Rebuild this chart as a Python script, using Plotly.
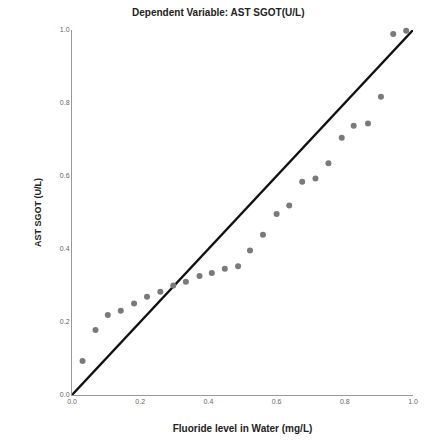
import plotly.graph_objects as go

observed_cum_prob = [0.031, 0.069, 0.105, 0.143, 0.182, 0.220, 0.259, 0.297, 0.334, 0.374,
                     0.410, 0.448, 0.487, 0.522, 0.560, 0.600, 0.637, 0.675, 0.714, 0.752,
                     0.791, 0.826, 0.868, 0.906, 0.942, 0.980]
expected_cum_prob = [0.093, 0.178, 0.219, 0.231, 0.251, 0.269, 0.283, 0.300, 0.310, 0.326,
                     0.334, 0.346, 0.353, 0.396, 0.439, 0.496, 0.519, 0.584, 0.593, 0.635,
                     0.705, 0.738, 0.744, 0.817, 0.989, 0.998]
ref_line_x = [0.0, 1.0]
ref_line_y = [0.0, 1.0]
tick_vals = [0.0, 0.2, 0.4, 0.6, 0.8, 1.0]
tick_text = ["0.0", "0.2", "0.4", "0.6", "0.8", "1.0"]

fig = go.Figure()
fig.add_trace(go.Scatter(x=ref_line_x, y=ref_line_y, mode="lines",
                         line=dict(color="#111111", width=2.3), showlegend=False))
fig.add_trace(go.Scatter(x=observed_cum_prob, y=expected_cum_prob, mode="markers",
                         marker=dict(color="#7a7a7a", size=6), showlegend=False,
                         cliponaxis=False))

fig.update_layout(
    width=428, height=446,
    margin=dict(l=72, r=10, t=30, b=51),
    paper_bgcolor="white", plot_bgcolor="white",
    font=dict(family="Liberation Sans, Arial, sans-serif", color="#222222"),
    title=dict(text="<b>Dependent Variable: AST SGOT(U/L)</b>", x=0.51, xanchor="center",
               y=0.973, yanchor="middle", font=dict(size=10, color="#222222")),
)
fig.update_xaxes(range=[0, 1], tickvals=tick_vals, ticktext=tick_text,
                 tickfont=dict(size=7, color="#666666"), showgrid=False, zeroline=False,
                 showline=True, linecolor="#999999", linewidth=1, ticks="",
                 title=dict(text="<b>Fluoride level in Water (mg/L)</b>",
                            font=dict(size=10, color="#222222"), standoff=20))
fig.update_yaxes(range=[0, 1], tickvals=tick_vals, ticktext=tick_text,
                 tickfont=dict(size=7, color="#666666"), showgrid=False, zeroline=False,
                 showline=True, linecolor="#999999", linewidth=1, ticks="",
                 title=dict(text="<b>AST SGOT (U/L)</b>", font=dict(size=9, color="#222222"),
                            standoff=16))

fig.write_html("out.html")
